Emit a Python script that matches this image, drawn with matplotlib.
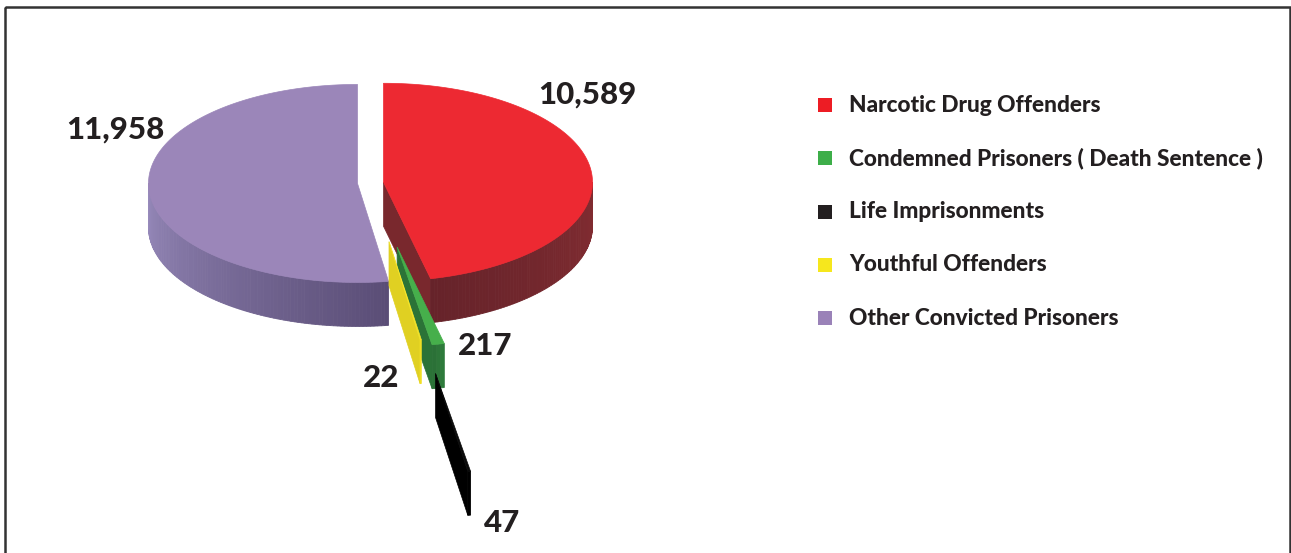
import numpy as np
import matplotlib
matplotlib.use("Agg")
import matplotlib.pyplot as plt
from matplotlib.patches import Polygon, Rectangle
from matplotlib.colors import to_rgb

# data
categories = ["Narcotic Drug Offenders", "Condemned Prisoners ( Death Sentence )",
              "Life Imprisonments", "Youthful Offenders", "Other Convicted Prisoners"]
values = [10589, 217, 47, 22, 11958]
value_labels = ["10,589", "217", "47", "22", "11,958"]
explode = [0.065, 0.66, 1.95, 0.6, 0.06]

# styles
top_colors = ["#ED2932", "#46AF4B", "#0A0A0A", "#F5E42A", "#9B86B9"]
wall_colors = [("#832C31", "#66232A"), ("#2F7D3C", "#2A6E36"), ("#000000", "#000000"),
               ("#F3E225", "#EEDC22"), ("#5A4D76", "#978ABB")]
legend_colors = ["#ED1C24", "#3DAE49", "#231F20", "#F6E71D", "#9A82B8"]
label_pos = [(587, 95), (485, 346), (502, 523), (381, 378), (115, 130)]
draw_order = [4, 0, 1, 3, 2]

W, H = 1291, 553
fig = plt.figure(figsize=(W / 100, H / 100), dpi=100)
ax = fig.add_axes([0, 0, 1, 1])
ax.set_xlim(0, W)
ax.set_ylim(H, 0)
ax.axis("off")

cx, cy, rx, ry, depth = 370, 183, 209, 99, 44


def pt(theta, r, c):
    t = np.radians(theta)
    return np.array([c[0] + r * rx * np.sin(t), c[1] - r * ry * np.cos(t)])


def mix(c1, c2, f):
    a, b = np.array(to_rgb(c1)), np.array(to_rgb(c2))
    return tuple(a + (b - a) * f)


total = sum(values)
bounds = np.concatenate([[0], np.cumsum(values) / total * 360])
down = np.array([0, depth])

z = 1
for i in draw_order:
    t1, t2 = bounds[i], bounds[i + 1]
    mid = (t1 + t2) / 2
    c = pt(mid, explode[i], (cx, cy))
    wc1, wc2 = wall_colors[i]

    # radial cut faces
    if np.sin(np.radians(t1)) < -1e-6:
        p = pt(t1, 1, c)
        ax.add_patch(Polygon([c, p, p + down, c + down], closed=True,
                             fc=wc1, ec=wc1, lw=0.5, zorder=z))
    if np.sin(np.radians(t2)) > 1e-6:
        p = pt(t2, 1, c)
        fcol = mix(wc1, "black", 0.08)
        ax.add_patch(Polygon([c, p, p + down, c + down], closed=True,
                             fc=fcol, ec=fcol, lw=0.5, zorder=z))
    z += 1

    # outer front wall, shaded in thin strips
    a0, a1 = max(t1, 90), min(t2, 270)
    if a1 > a0:
        n = max(2, int((a1 - a0) / 1.0) + 1)
        angs = np.linspace(a0, a1, n)
        for k in range(n - 1):
            p, q = pt(angs[k], 1, c), pt(angs[k + 1], 1, c)
            col = mix(wc1, wc2, (k + 0.5) / (n - 1))
            ax.add_patch(Polygon([p, q, q + down, p + down], closed=True,
                                 fc=col, ec=col, lw=0.6, zorder=z))
    z += 1

    # top face
    angs = np.linspace(t1, t2, max(3, int(t2 - t1) + 2))
    rim = [pt(a, 1, c) for a in angs]
    ax.add_patch(Polygon([c] + rim, closed=True, fc=top_colors[i],
                         ec=top_colors[i], lw=0.5, zorder=z))
    z += 1

for i in range(len(values)):
    ax.text(label_pos[i][0], label_pos[i][1], value_labels[i], fontsize=22.5,
            fontweight=900, family="Lato", color="#231F20",
            ha="center", va="center", zorder=50)

# legend
for i, name in enumerate(categories):
    y = 105 + 53.3 * i
    ax.add_patch(Rectangle((818, y - 7), 14, 14, fc=legend_colors[i], ec="none", zorder=50))
    ax.text(849, y, name, fontsize=16.3, fontweight=900, family="Lato",
            color="#231F20", ha="left", va="center", zorder=50)

# frame
ax.add_patch(Rectangle((5, 7), 1284.5, 600, fill=False, ec="#333333", lw=1.8,
                       clip_on=False, zorder=60))

fig.savefig("out.png", dpi=100)
